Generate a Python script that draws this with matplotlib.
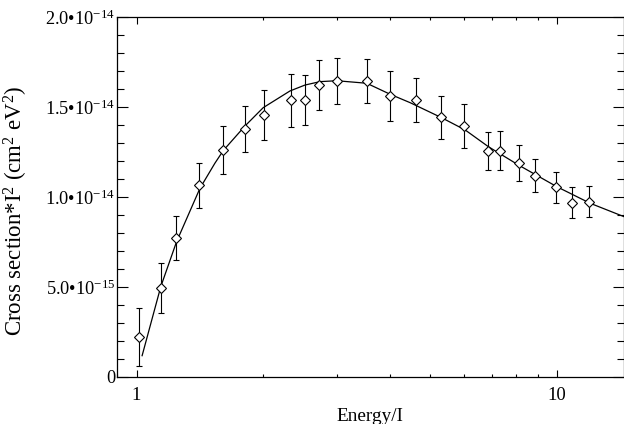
import matplotlib
matplotlib.use("Agg")
import matplotlib.pyplot as plt
from matplotlib.ticker import FixedLocator, FixedFormatter, MultipleLocator, LogLocator, NullFormatter
import numpy as np

plt.rcParams['font.family'] = ['Liberation Serif', 'DejaVu Serif']
plt.rcParams['mathtext.fontset'] = 'custom'
plt.rcParams['mathtext.rm'] = 'Liberation Serif'
plt.rcParams['mathtext.it'] = 'Liberation Serif:italic'
plt.rcParams['mathtext.bf'] = 'Liberation Serif:bold'

# Measured data (Energy/I, cross section*I^2 in units of 1e-15 cm^2 eV^2)
energy = [1.013, 1.143, 1.243, 1.407, 1.610, 1.811, 2.007, 2.326, 2.514, 2.716,
          2.996, 3.530, 4.015, 4.627, 5.305, 6.005, 6.860, 7.330, 8.125, 8.870,
          9.960, 10.88, 11.93]
values = [2.2, 4.93, 7.7, 10.65, 12.61, 13.78, 14.56, 15.38, 15.4, 16.22,
          16.45, 16.45, 15.6, 15.4, 14.43, 13.94, 12.57, 12.57, 11.9, 11.19,
          10.53, 9.69, 9.73]
errors = [1.6, 1.4, 1.23, 1.26, 1.32, 1.27, 1.37, 1.47, 1.4, 1.39,
          1.3, 1.22, 1.39, 1.22, 1.2, 1.21, 1.05, 1.08, 1.0, 0.9,
          0.84, 0.85, 0.87]

# Fitted curve
curve_energy = [1.031, 1.142, 1.245, 1.415, 1.536, 1.610, 1.811, 2.001, 2.317, 2.516,
                2.732, 2.994, 3.528, 4.009, 4.474, 5.32, 6.05, 6.87, 8.1, 10.0,
                12.0, 14.46]
curve_values = [1.17, 5.01, 7.51, 10.48, 11.88, 12.6, 13.95, 14.97, 15.9, 16.23,
                16.42, 16.47, 16.33, 15.72, 15.25, 14.41, 13.73, 12.8, 11.78, 10.57,
                9.65, 8.9]

ytick_values = [0, 5e-15, 1e-14, 1.5e-14, 2e-14]
ytick_labels = ['0', '5.0\u202210$^{-15}$', '1.0\u202210$^{-14}$',
                '1.5\u202210$^{-14}$', '2.0\u202210$^{-14}$']
xtick_values = [1, 10]
xtick_labels = ['1', '10']

scale = 1e-15

fig = plt.figure(figsize=(6.24, 4.24), dpi=100)
ax = fig.add_axes([117.3 / 624, 47.3 / 424, (623.5 - 117.3) / 624, (376.7 - 17.3) / 424])

ax.plot(curve_energy, np.array(curve_values) * scale, color='black', lw=0.9)
ax.errorbar(energy, np.array(values) * scale, yerr=np.array(errors) * scale,
            fmt='D', mfc='white', mec='black', mew=0.8, ms=4.8,
            ecolor='black', elinewidth=0.8, capsize=2.3, capthick=0.8, zorder=3)

ax.set_xscale('log')
ax.set_xlim(0.9, 14.4)
ax.set_ylim(0, 2e-14)

ax.xaxis.set_major_locator(FixedLocator(xtick_values))
ax.xaxis.set_major_formatter(FixedFormatter(xtick_labels))
ax.xaxis.set_minor_locator(LogLocator(base=10, subs=np.arange(2, 10)))
ax.xaxis.set_minor_formatter(NullFormatter())

ax.yaxis.set_major_locator(FixedLocator(ytick_values))
ax.yaxis.set_major_formatter(FixedFormatter(ytick_labels))
ax.yaxis.set_minor_locator(MultipleLocator(1e-15))

for s in ax.spines.values():
    s.set_linewidth(0.9)

ax.tick_params(axis='x', which='both', direction='in', top=True, bottom=True,
               labelsize=13.5, pad=7.5, width=0.8)
ax.tick_params(axis='x', which='major', length=5)
ax.tick_params(axis='x', which='minor', length=2.5)
ax.tick_params(axis='y', which='both', direction='in', left=True, right=True,
               labelsize=13.2, pad=1.5, width=0.8)
ax.tick_params(axis='y', which='major', length=8)
ax.tick_params(axis='y', which='minor', length=4.8)

ax.set_xlabel('Energy/I', fontsize=13.9)
ax.xaxis.set_label_coords(0.5, -0.086)
ax.xaxis.label.set_va('top')
ax.set_ylabel('Cross section*I$^2$ (cm$^2$ eV$^2$)', fontsize=16.5)
ax.yaxis.set_label_coords(-0.172, 0.46)

fig.savefig('out.png', dpi=100)
